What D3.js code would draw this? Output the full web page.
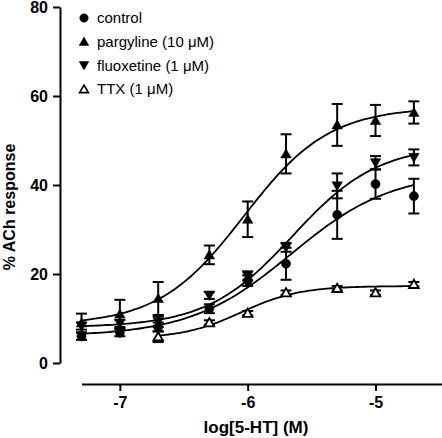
<!DOCTYPE html>
<html><head><meta charset="utf-8">
<script src="https://cdn.jsdelivr.net/npm/d3@7"></script>
<style>body{margin:0;background:#fff}svg{display:block}text{font-family:Arial,"Liberation Sans",sans-serif}</style>
</head><body><div id="c"></div>
<script>
const logConc = [-7.3, -7.0, -6.7, -6.3, -6.0, -5.7, -5.3, -5.0, -4.7];
const ttxConc = [-6.7, -6.3, -6.0, -5.7, -5.3, -5.0, -4.7];

const controlMean = [6.0, 6.8, 8.1, 12.2, 18.5, 22.3, 33.3, 40.2, 37.5];
const controlSem  = [0.8, 0.8, 1.0, 1.0, 1.2, 3.6, 5.4, 3.3, 3.9];
const pargylineMean = [9.0, 11.0, 14.5, 24.3, 32.3, 47.0, 53.5, 54.5, 56.3];
const pargylineSem  = [2.1, 3.2, 3.7, 2.1, 4.0, 4.4, 4.7, 3.5, 2.5];
const fluoxetineMean = [8.3, 8.9, 9.3, 15.2, 19.6, 26.0, 39.8, 45.0, 46.2];
const fluoxetineSem  = [0.8, 0.8, 1.2, 0.8, 1.0, 1.0, 2.8, 1.5, 1.8];
const ttxMean = [5.9, 9.1, 11.2, 15.8, 16.8, 15.8, 17.7];
const ttxSem  = [1.2, 0.5, 0.5, 0.5, 0.5, 0.5, 0.5];

// fitted sigmoid parameters: bottom, top, logEC50, hill
const controlFit    = [6.0, 43.0, -5.66, 1.1];
const pargylineFit  = [8.5, 57.5, -6.03, 1.3];
const fluoxetineFit = [8.0, 49.0, -5.65, 1.3];
const ttxFit        = [5.5, 17.3, -6.05, 1.9];

const seriesNames = ["control", "pargyline (10 \u03bcM)", "fluoxetine (1 \u03bcM)", "TTX (1 \u03bcM)"];
const yTicks = [0, 20, 40, 60, 80];
const xTicks = [-7, -6, -5];

const W = 442, H = 438;
const svg = d3.select("#c").append("svg").attr("width", W).attr("height", H);
const x = d3.scaleLinear().domain([-7.3, -4.48]).range([81.5, 442]);
const y = d3.scaleLinear().domain([0, 80]).range([363, 7]);

// y axis
const ya = svg.append("g").attr("transform", "translate(60,0)")
  .call(d3.axisLeft(y).tickValues(yTicks).tickSize(7).tickPadding(5).tickSizeOuter(0));
ya.select(".domain").attr("stroke-width", 2);
ya.selectAll(".tick line").attr("stroke-width", 2);
ya.selectAll("text").attr("font-size", 16).attr("font-weight", "bold").attr("fill", "#000");

// x axis
const xa = svg.append("g").attr("transform", "translate(0,384)")
  .call(d3.axisBottom(x).tickValues(xTicks).tickSize(7).tickPadding(6).tickSizeOuter(0).tickFormat(d => String(d)));
xa.select(".domain").attr("stroke-width", 2);
xa.selectAll(".tick line").attr("stroke-width", 2);
xa.selectAll("text").attr("font-size", 16).attr("font-weight", "bold").attr("fill", "#000");

svg.append("text").attr("x", 256).attr("y", 433).attr("text-anchor", "middle")
  .attr("font-size", 17).attr("font-weight", "bold").text("log[5-HT] (M)");
svg.append("text").attr("transform", "translate(15,207) rotate(-90)").attr("text-anchor", "middle")
  .attr("font-size", 16).attr("font-weight", "bold").text("% ACh response");

const series = [
  {xs: logConc, m: controlMean, s: controlSem, fit: controlFit, sym: d3.symbolCircle, size: 66, rot: 0, fill: "#000"},
  {xs: logConc, m: pargylineMean, s: pargylineSem, fit: pargylineFit, sym: d3.symbolTriangle, size: 48, rot: 0, fill: "#000"},
  {xs: logConc, m: fluoxetineMean, s: fluoxetineSem, fit: fluoxetineFit, sym: d3.symbolTriangle, size: 48, rot: 180, fill: "#000"},
  {xs: ttxConc, m: ttxMean, s: ttxSem, fit: ttxFit, sym: d3.symbolTriangle, size: 40, rot: 0, fill: "#fff"}
];

const sig = (p, lx) => p[0] + (p[1] - p[0]) / (1 + Math.pow(10, (p[2] - lx) * p[3]));
const line = d3.line().x(d => x(d[0])).y(d => y(d[1]));

series.forEach(s => {
  const x0 = s.xs[0], x1 = s.xs[s.xs.length - 1];
  const pts = d3.range(0, 101).map(i => { const lx = x0 + (x1 - x0) * i / 100; return [lx, sig(s.fit, lx)]; });
  svg.append("path").attr("d", line(pts)).attr("fill", "none").attr("stroke", "#000").attr("stroke-width", 1.8);
});

series.forEach(s => {
  const g = svg.append("g");
  s.xs.forEach((lx, i) => {
    const cx = x(lx), top = y(s.m[i] + s.s[i]), bot = y(s.m[i] - s.s[i]);
    g.append("line").attr("x1", cx).attr("x2", cx).attr("y1", top).attr("y2", bot).attr("stroke", "#000").attr("stroke-width", 2);
    [top, bot].forEach(yy => g.append("line").attr("x1", cx - 5.5).attr("x2", cx + 5.5).attr("y1", yy).attr("y2", yy).attr("stroke", "#000").attr("stroke-width", 2));
  });
  s.xs.forEach((lx, i) => {
    g.append("path").attr("d", d3.symbol().type(s.sym).size(s.size)())
      .attr("transform", `translate(${x(lx)},${y(s.m[i]) + (s.sym === d3.symbolTriangle ? (s.rot ? -1 : 1) : 0)}) rotate(${s.rot})`)
      .attr("fill", s.fill).attr("stroke", "#000").attr("stroke-width", s.fill === "#fff" ? 1.8 : 0.5);
  });
});

// legend
const leg = svg.append("g");
seriesNames.forEach((name, i) => {
  const s = series[i], ly = 18 + i * 23.7;
  leg.append("path").attr("d", d3.symbol().type(s.sym).size(s.size * 0.85)())
    .attr("transform", `translate(84,${ly + (s.sym === d3.symbolTriangle ? (s.rot ? -1 : 1) : 0)}) rotate(${s.rot})`)
    .attr("fill", s.fill).attr("stroke", "#000").attr("stroke-width", s.fill === "#fff" ? 1.6 : 0.5);
  leg.append("text").attr("x", 97).attr("y", ly + 5.3).attr("font-size", 15).text(name);
});
</script></body></html>
